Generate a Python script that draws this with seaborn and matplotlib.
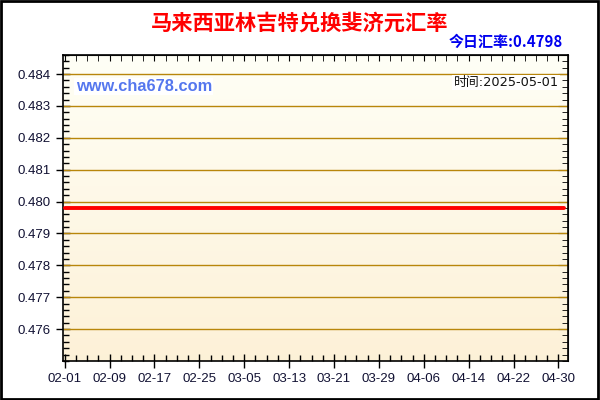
import numpy as np
import pandas as pd
import seaborn as sns
import matplotlib.pyplot as plt
import matplotlib.dates as mdates
from matplotlib.ticker import MultipleLocator

# dáta z obrázka
dates = ["2025-02-01", "2025-05-01"]
rates = [0.4798, 0.4798]
tick_labels = ["02-01", "02-09", "02-17", "02-25", "03-05", "03-13",
               "03-21", "03-29", "04-06", "04-14", "04-22", "04-30"]
y_ticks = [0.476, 0.477, 0.478, 0.479, 0.480, 0.481, 0.482, 0.483, 0.484]

title = "马来西亚林吉特兑换斐济元汇率"
today = "今日汇率:0.4798"
site = "www.cha678.com"
stamp = "时间:2025-05-01"

df = pd.DataFrame({"date": pd.to_datetime(dates), "rate": rates})

sns.set_style("ticks")
plt.rcParams['font.family'] = ['Liberation Sans', 'Noto Sans CJK SC', 'DejaVu Sans']

fig = plt.figure(figsize=(6, 4), dpi=100)
ax = fig.add_axes([63 / 600, 1 - 361 / 400, 505 / 600, 306 / 400])

x0 = mdates.date2num(pd.Timestamp("2025-02-01")) - 0.3
x1 = mdates.date2num(pd.Timestamp("2025-05-01")) + 0.7
y0, y1 = 0.4750, 0.4846

# gradient pozadia
grad = np.linspace(0, 1, 256).reshape(-1, 1)
top = np.array([1.0, 1.0, 0.965])
bot = np.array([0.992, 0.945, 0.845])
img = top + (bot - top) * grad[:, :, None]
ax.imshow(img, extent=[x0, x1, y0, y1], aspect='auto', origin='upper', zorder=0)

for yv in y_ticks:
    ax.axhline(yv, color='#b8860b', lw=1, zorder=1)

sns.lineplot(data=df, x="date", y="rate", color='red', lw=2.8, ax=ax, zorder=3)

ax.set_xlim(x0, x1)
ax.set_ylim(y0, y1)
tick_dates = [mdates.date2num(pd.Timestamp("2025-" + t)) for t in tick_labels]
ax.set_xticks(tick_dates)
ax.set_xticklabels(tick_labels)
ax.xaxis.set_minor_locator(MultipleLocator(2))
ax.set_yticks(y_ticks)
ax.set_yticklabels([f"{v:.3f}" for v in y_ticks])
ax.yaxis.set_minor_locator(MultipleLocator(0.0002))
ax.set_xlabel("")
ax.set_ylabel("")

ax.tick_params(which='major', direction='inout', length=10, width=1, color='black',
               labelsize=9.5, labelcolor='#111133', pad=4)
ax.tick_params(which='minor', direction='in', length=4, width=1, color='black')
for s in ax.spines.values():
    s.set_color('black')
    s.set_linewidth(1.2)

# horné a pravé tiky dovnútra
sx = ax.secondary_xaxis('top')
sx.set_xticks(tick_dates)
sx.set_xticklabels([])
sx.xaxis.set_minor_locator(MultipleLocator(2))
sx.tick_params(which='both', direction='in', length=4, color='black')
sy = ax.secondary_yaxis('right')
sy.set_yticks(y_ticks)
sy.set_yticklabels([])
sy.yaxis.set_minor_locator(MultipleLocator(0.0002))
sy.tick_params(which='major', direction='in', length=7, color='black')
sy.tick_params(which='minor', direction='in', length=4, color='black')

fig.text(0.5, 1 - 23 / 400, title, color='red', fontsize=15.3, fontweight='bold',
         ha='center', va='center', family=['Noto Sans CJK SC', 'DejaVu Sans'])
fig.text(563 / 600, 1 - 42 / 400, today, color='#0000ee', fontsize=10.8, fontweight='bold',
         ha='right', va='center', family=['Noto Sans CJK SC', 'DejaVu Sans'])
ax.text(0.025, 0.897, site, transform=ax.transAxes, color='#5577ee', fontsize=11.8,
        fontweight='bold', ha='left', va='center', zorder=5,
        bbox=dict(facecolor='white', edgecolor='none', pad=1))
ax.text(0.982, 0.91, stamp, transform=ax.transAxes, color='#111111', fontsize=9.3,
        ha='right', va='center', zorder=5, family=['DejaVu Sans', 'Noto Sans CJK SC'],
        bbox=dict(facecolor='white', edgecolor='none', pad=1))

# rámček okolo obrázka
fig.patches.append(plt.Rectangle((0.002, 0.003), 0.995, 0.994, transform=fig.transFigure,
                                 fill=False, edgecolor='black', lw=2))

fig.savefig('out.png', dpi=100)
